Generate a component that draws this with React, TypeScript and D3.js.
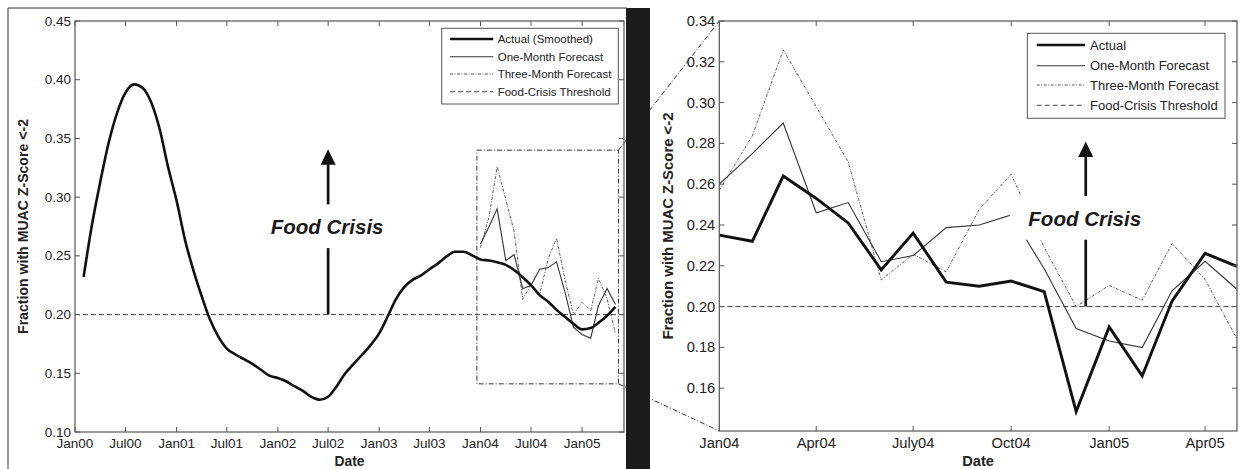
import React from "react";
import * as d3 from "d3";

// smoothed actual, Feb00 .. May05 (monthly)
const smoothedActual = [
  0.232, 0.275, 0.313, 0.346, 0.372, 0.389, 0.396, 0.393, 0.381, 0.358,
  0.326, 0.297, 0.263, 0.239, 0.216, 0.196, 0.181, 0.171, 0.166, 0.162,
  0.158, 0.153, 0.148, 0.146, 0.143, 0.139, 0.135, 0.13, 0.1275, 0.13,
  0.139, 0.15, 0.158, 0.166, 0.174, 0.184, 0.1986, 0.2125, 0.2233, 0.2295,
  0.2333, 0.2386, 0.2436, 0.2495, 0.2535, 0.2535, 0.2505, 0.247, 0.246, 0.2445,
  0.2423, 0.238, 0.2318, 0.225, 0.2166, 0.211, 0.204, 0.198, 0.1921, 0.1874,
  0.1885, 0.193, 0.199, 0.2065,
];
const smoothedMonths = d3.timeMonth.range(new Date(2000, 1, 1), new Date(2005, 4, 2));

// Jan04 .. May05 (monthly)
const forecastMonths = d3.timeMonth.range(new Date(2004, 0, 1), new Date(2005, 4, 2));
const actual = [0.235, 0.232, 0.264, 0.253, 0.241, 0.218, 0.236, 0.212, 0.21, 0.2125, 0.2073, 0.1485, 0.19, 0.166, 0.2027, 0.2261, 0.2197];
const oneMonth = [0.26, 0.275, 0.29, 0.246, 0.251, 0.222, 0.225, 0.2387, 0.24, 0.2449, 0.2185, 0.1892, 0.1831, 0.1799, 0.2077, 0.2222, 0.2085];
const threeMonth = [0.257, 0.2837, 0.3258, 0.298, 0.2709, 0.213, 0.2257, 0.217, 0.2477, 0.2649, 0.229, 0.2, 0.2104, 0.2031, 0.2309, 0.2134, 0.184];

const threshold = 0.2;

const leftXTickDates = [new Date(2000, 0, 1), new Date(2000, 6, 1), new Date(2001, 0, 1), new Date(2001, 6, 1), new Date(2002, 0, 1), new Date(2002, 6, 1), new Date(2003, 0, 1), new Date(2003, 6, 1), new Date(2004, 0, 1), new Date(2004, 6, 1), new Date(2005, 0, 1)];
const leftXTickLabels = ["Jan00", "Jul00", "Jan01", "Jul01", "Jan02", "Jul02", "Jan03", "Jul03", "Jan04", "Jul04", "Jan05"];
const leftYTicks = [0.1, 0.15, 0.2, 0.25, 0.3, 0.35, 0.4, 0.45];

const rightXTickDates = [new Date(2004, 0, 1), new Date(2004, 3, 1), new Date(2004, 6, 1), new Date(2004, 9, 1), new Date(2005, 0, 1), new Date(2005, 3, 1)];
const rightXTickLabels = ["Jan04", "Apr04", "July04", "Oct04", "Jan05", "Apr05"];
const rightYTicks = [0.16, 0.18, 0.2, 0.22, 0.24, 0.26, 0.28, 0.3, 0.32, 0.34];

const leftLegend = ["Actual (Smoothed)", "One-Month Forecast", "Three-Month Forecast", "Food-Crisis Threshold"];
const rightLegend = ["Actual", "One-Month Forecast", "Three-Month Forecast", "Food-Crisis Threshold"];

const FONT = "'Liberation Sans', Arial, Helvetica, sans-serif";
const AXIS = "#555";

const styles = [
  { stroke: "#111", width: 2.7, dash: undefined as string | undefined },
  { stroke: "#333", width: 1.1, dash: undefined as string | undefined },
  { stroke: "#444", width: 0.9, dash: "3,1.5,1,1.5" },
  { stroke: "#444", width: 1, dash: "5,3" },
];

function Axes({ x, y, xTicks, xLabels, yTicks, fs, labelFs, yLabelX }: any) {
  const [x0, x1] = x.range();
  const [y0, y1] = y.range();
  const fmt = d3.format(".2f");
  return (
    <g fontFamily={FONT} fill="#222">
      <rect x={x0} y={y1} width={x1 - x0} height={y0 - y1} fill="none" stroke={AXIS} strokeWidth={1.2} />
      {xTicks.map((d: Date, i: number) => (
        <g key={"xt" + i}>
          <line x1={x(d)} x2={x(d)} y1={y0} y2={y0 - 5} stroke={AXIS} />
          <line x1={x(d)} x2={x(d)} y1={y1} y2={y1 + 5} stroke={AXIS} />
          <text x={x(d)} y={448} fontSize={fs} textAnchor="middle">{xLabels[i]}</text>
        </g>
      ))}
      {yTicks.map((v: number, i: number) => (
        <g key={"yt" + i}>
          <line x1={x0} x2={x0 + 5} y1={y(v)} y2={y(v)} stroke={AXIS} />
          <line x1={x1} x2={x1 - 5} y1={y(v)} y2={y(v)} stroke={AXIS} />
          <text x={x0 - 4} y={y(v)} fontSize={fs} textAnchor="end" dominantBaseline="central">{fmt(v)}</text>
        </g>
      ))}
      <text x={(x0 + x1) / 2} y={466} fontSize={labelFs} fontWeight="bold" textAnchor="middle">Date</text>
      <text transform={`translate(${yLabelX},${(y0 + y1) / 2}) rotate(-90)`} fontSize={labelFs + 0.3} fontWeight="bold" textAnchor="middle">
        Fraction with MUAC Z-Score &lt;-2
      </text>
    </g>
  );
}

function Legend({ x0, y0, w, h, rowY, sx0, sx1, tx, labels, fs }: any) {
  return (
    <g fontFamily={FONT}>
      <rect x={x0} y={y0} width={w} height={h} fill="#fff" stroke={AXIS} strokeWidth={1} />
      {labels.map((l: string, i: number) => (
        <g key={l}>
          <line x1={sx0} x2={sx1} y1={rowY[i]} y2={rowY[i]} stroke={styles[i].stroke} strokeWidth={i === 0 ? 2.4 : styles[i].width} strokeDasharray={styles[i].dash} />
          <text x={tx} y={rowY[i]} fontSize={fs} dominantBaseline="central" fill="#222">{l}</text>
        </g>
      ))}
    </g>
  );
}

function Crisis({ x, y, at, tip, textV, fs }: any) {
  const ax = x(at);
  const base = y(threshold);
  const t = y(tip);
  const bl = y(textV);
  return (
    <g>
      <line x1={ax} x2={ax} y1={base} y2={t + 14} stroke="#111" strokeWidth={2.7} />
      <path d={`M${ax},${t} L${ax - 7.5},${t + 15.5} L${ax + 7.5},${t + 15.5} Z`} fill="#111" />
      <rect x={ax - 76} y={bl - 30} width={152} height={43.7} fill="#fff" />
      <text x={ax - 1} y={bl} fontFamily={FONT} fontSize={fs} fontWeight="bold" fontStyle="italic" textAnchor="middle" fill="#1a1a1a">Food Crisis</text>
    </g>
  );
}

export default function App() {
  const W = 1243, H = 469;
  const xL = d3.scaleTime().domain([new Date(2000, 0, 1), new Date(2005, 5, 1)]).range([75, 624]);
  const yL = d3.scaleLinear().domain([0.1, 0.45]).range([432, 21]);
  const xR = d3.scaleTime().domain([new Date(2004, 0, 1), new Date(2005, 4, 1)]).range([719.3, 1237]);
  const yR = d3.scaleLinear().domain([0.139, 0.34]).range([431, 21]);

  const smoothLine = d3.line<number>().x((_, i) => xL(smoothedMonths[i])).y((d) => yL(d)).curve(d3.curveMonotoneX);
  const lineL = d3.line<number>().x((_, i) => xL(forecastMonths[i])).y((d) => yL(d));
  const lineR = d3.line<number>().x((_, i) => xR(forecastMonths[i])).y((d) => yR(d));

  // zoom window drawn on left panel
  const zx0 = xL(new Date(2003, 11, 19));
  const zx1 = xL(new Date(2005, 4, 12));
  const zy0 = yL(0.34);
  const zy1 = yL(0.141);
  const zoomDash = "5,2,1,2";

  return (
    <svg width={W} height={H} style={{ position: "absolute", left: 0, top: 0, background: "#fff" }}>
      {/* left panel frame */}
      <line x1={8} x2={627} y1={8} y2={8} stroke="#333" strokeWidth={1} />
      <line x1={8} x2={8} y1={8} y2={H} stroke="#333" strokeWidth={1} />

      {/* left panel */}
      <line x1={75} x2={624} y1={yL(threshold)} y2={yL(threshold)} stroke={styles[3].stroke} strokeWidth={1} strokeDasharray={styles[3].dash} />
      <rect x={zx0} y={zy0} width={zx1 - zx0} height={zy1 - zy0} fill="none" stroke="#333" strokeWidth={1} strokeDasharray={zoomDash} />
      <path d={lineL(threeMonth) ?? ""} fill="none" stroke={styles[2].stroke} strokeWidth={styles[2].width} strokeDasharray={styles[2].dash} />
      <path d={lineL(oneMonth) ?? ""} fill="none" stroke={styles[1].stroke} strokeWidth={styles[1].width} />
      <path d={smoothLine(smoothedActual) ?? ""} fill="none" stroke="#111" strokeWidth={2.6} strokeLinejoin="round" />
      <Crisis x={xL} y={yL} at={new Date(2002, 6, 1)} tip={0.3407} textV={0.2683} fs={20.5} />
      <Axes x={xL} y={yL} xTicks={leftXTickDates} xLabels={leftXTickLabels} yTicks={leftYTicks} fs={13.5} labelFs={13.8} yLabelX={28} />
      <Legend x0={441.7} y0={28.3} w={176.6} h={75.7} rowY={[39, 56.7, 74, 91.7]} sx0={450} sx1={493.3} tx={497.7} labels={leftLegend} fs={11.5} />

      {/* connectors from zoom window to right panel */}
      <line x1={zx1} y1={zy0} x2={xR.range()[0]} y2={yR(0.34)} stroke="#333" strokeWidth={1} strokeDasharray={zoomDash} />
      <line x1={zx1} y1={zy1} x2={xR.range()[0]} y2={yR.range()[0]} stroke="#333" strokeWidth={1} strokeDasharray={zoomDash} />

      {/* black separator */}
      <rect x={626} y={8} width={24} height={H - 8} fill="#1c1c1c" />

      {/* right panel */}
      <line x1={719.3} x2={1237} y1={yR(threshold)} y2={yR(threshold)} stroke={styles[3].stroke} strokeWidth={1} strokeDasharray={styles[3].dash} />
      <path d={lineR(threeMonth) ?? ""} fill="none" stroke={styles[2].stroke} strokeWidth={styles[2].width} strokeDasharray={styles[2].dash} />
      <path d={lineR(oneMonth) ?? ""} fill="none" stroke={styles[1].stroke} strokeWidth={styles[1].width} />
      <path d={lineR(actual) ?? ""} fill="none" stroke="#111" strokeWidth={2.9} strokeLinejoin="miter" />
      <Crisis x={xR} y={yR} at={new Date(2004, 11, 10)} tip={0.2809} textV={0.2395} fs={20.5} />
      <Axes x={xR} y={yR} xTicks={rightXTickDates} xLabels={rightXTickLabels} yTicks={rightYTicks} fs={14.7} labelFs={14.6} yLabelX={673} />
      <Legend x0={1027.3} y0={33.3} w={197.7} h={85} rowY={[45, 65.7, 85, 105.3]} sx0={1036.7} sx1={1085} tx={1090} labels={rightLegend} fs={13} />
    </svg>
  );
}
